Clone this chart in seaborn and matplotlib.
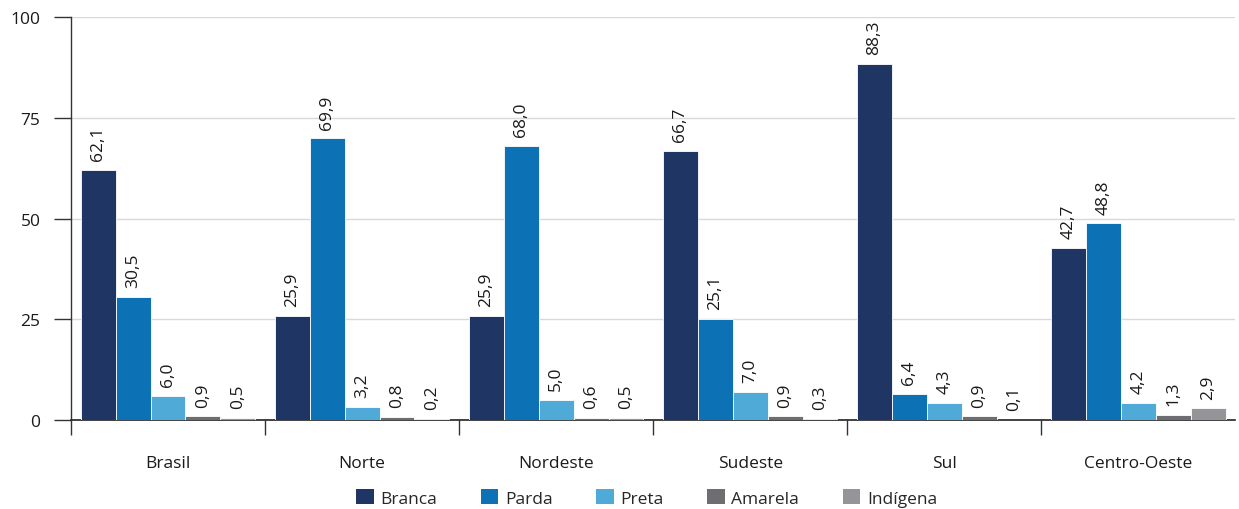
import matplotlib
matplotlib.use("Agg")
import matplotlib.pyplot as plt
import seaborn as sns
import pandas as pd
from matplotlib.patches import Patch

regioes = ["Brasil", "Norte", "Nordeste", "Sudeste", "Sul", "Centro-Oeste"]
grupos = ["Branca", "Parda", "Preta", "Amarela", "Indígena"]
branca = [62.1, 25.9, 25.9, 66.7, 88.3, 42.7]
parda = [30.5, 69.9, 68.0, 25.1, 6.4, 48.8]
preta = [6.0, 3.2, 5.0, 7.0, 4.3, 4.2]
amarela = [0.9, 0.8, 0.6, 0.9, 0.9, 1.3]
indigena = [0.5, 0.2, 0.5, 0.3, 0.1, 2.9]
yticks = [0, 25, 50, 75, 100]
cores = ["#1F3564", "#0C72B5", "#4FAAD8", "#6D6E71", "#939598"]

series = [branca, parda, preta, amarela, indigena]
rows = []
for g, vals in zip(grupos, series):
    for r, v in zip(regioes, vals):
        rows.append({"regiao": r, "grupo": g, "valor": v})
df = pd.DataFrame(rows)

sns.set_theme(style="white")
plt.rcParams["font.family"] = ["Open Sans", "DejaVu Sans"]

fig = plt.figure(figsize=(12.39, 5.10), dpi=100)
ax = fig.add_axes([0.0573, 0.1745, 0.9397, 0.7902])

sns.barplot(data=df, x="regiao", y="valor", hue="grupo", order=regioes,
            hue_order=grupos, palette=cores, saturation=1, width=0.9,
            errorbar=None, edgecolor="white", linewidth=0.6, ax=ax,
            legend=False, zorder=3)

for cont, vals in zip(ax.containers, series):
    labels = [f"{v:.1f}".replace(".", ",") for v in vals]
    ax.bar_label(cont, labels=labels, rotation=90, padding=7,
                 fontsize=12.5, color="#1a1a1a")

ax.set_ylim(0, 100)
ax.set_xlim(-0.5, 5.5)
ax.set_yticks(yticks)
ax.yaxis.grid(True, color="#d9d9d9", linewidth=1, zorder=0)
ax.set_axisbelow(True)
ax.tick_params(axis="y", which="major", direction="out", length=12,
               width=1, color="#333333", pad=10, labelsize=12.5,
               labelcolor="#1a1a1a", left=True)

# category boundaries as major ticks, names as minor ticks at the centres
ax.set_xticks([i - 0.5 for i in range(len(regioes))])
ax.set_xticklabels([])
ax.set_xticks(range(len(regioes)), minor=True)
ax.set_xticklabels(regioes, minor=True)
ax.tick_params(axis="x", which="major", direction="out", length=11,
               width=1, color="#333333", bottom=True)
ax.tick_params(axis="x", which="minor", length=0, pad=25, labelsize=12.5,
               labelcolor="#1a1a1a")
ax.set_xlabel("")
ax.set_ylabel("")

for s in ["top", "right"]:
    ax.spines[s].set_visible(False)
ax.spines["left"].set_color("#333333")
ax.spines["left"].set_linewidth(1)
ax.spines["bottom"].set_color("#222222")
ax.spines["bottom"].set_linewidth(1.2)
ax.spines["bottom"].set_zorder(2)

handles = [Patch(facecolor=c, edgecolor="none", label=g) for g, c in zip(grupos, cores)]
fig.legend(handles=handles, loc="center", bbox_to_anchor=(0.522, 0.022),
           ncol=5, frameon=False, fontsize=12.5, handlelength=1.0,
           handleheight=1.0, handletextpad=0.4, columnspacing=2.5)

fig.savefig("out.png", dpi=100)
